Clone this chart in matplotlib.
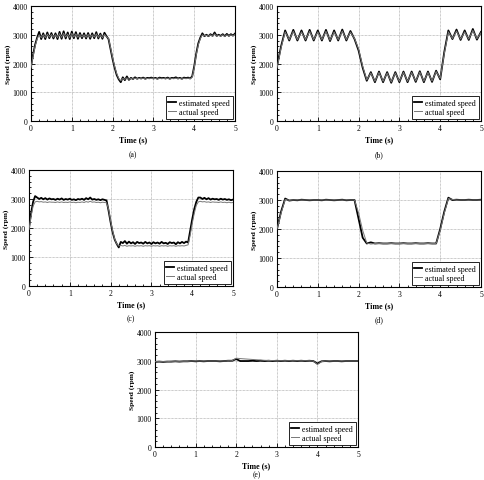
import numpy as np
import matplotlib
matplotlib.use("Agg")
import matplotlib.pyplot as plt
from matplotlib.ticker import MultipleLocator

plt.rcParams['font.family'] = ['Liberation Serif', 'DejaVu Serif']

# sample times (s)
t_fine = np.linspace(0, 5, 101)    # 0.05 s steps
t_coarse = np.linspace(0, 5, 51)   # 0.1 s steps

# (a) speed (rpm), 0.05 s steps
a_est = [1900, 2300, 2650, 2900, 3100, 2850, 3050, 2850, 3080, 2880,
         3060, 2870, 3050, 2850, 3100, 2860, 3120, 2870, 3080, 2850,
         3110, 2880, 3090, 2860, 3060, 2880, 3050, 2870, 3060, 2860,
         3050, 2880, 3090, 2870, 3040, 2860, 3070, 2950, 2850, 2500,
         2150, 1850, 1600, 1450, 1350, 1520, 1420, 1550, 1430, 1500,
         1460, 1520, 1470, 1500, 1480, 1510, 1470, 1500, 1490, 1510,
         1480, 1500, 1470, 1510, 1490, 1500, 1480, 1510, 1470, 1500,
         1490, 1520, 1480, 1500, 1470, 1510, 1490, 1510, 1480, 1550,
         1900, 2350, 2700, 2900, 3050, 2950, 3000, 2950, 3020, 2960,
         3080, 2960, 3000, 2960, 3020, 2950, 3030, 2960, 3020, 2970,
         3040]
a_act = [1850, 2250, 2600, 2850, 3000, 2900, 3000, 2900, 3020, 2920,
         3010, 2910, 3000, 2900, 3040, 2910, 3050, 2920, 3020, 2900,
         3050, 2920, 3030, 2910, 3010, 2920, 3000, 2910, 3010, 2910,
         3000, 2920, 3030, 2910, 3000, 2900, 3010, 2930, 2870, 2550,
         2200, 1900, 1650, 1480, 1400, 1480, 1450, 1500, 1450, 1480,
         1460, 1490, 1470, 1480, 1470, 1490, 1460, 1480, 1470, 1490,
         1470, 1480, 1460, 1490, 1470, 1480, 1470, 1490, 1460, 1480,
         1470, 1490, 1470, 1480, 1460, 1490, 1470, 1490, 1470, 1520,
         1850, 2300, 2650, 2870, 3000, 2960, 2980, 2950, 3000, 2950,
         3030, 2950, 2980, 2950, 3000, 2940, 3000, 2950, 3000, 2960,
         3010]

# (b) speed (rpm), 0.1 s steps
b_est = [1900, 2600, 3150, 2800, 3170, 2800, 3150, 2800, 3170, 2800,
         3150, 2800, 3170, 2780, 3150, 2800, 3180, 2800, 3130, 2850,
         2450, 1850, 1400, 1700, 1350, 1720, 1350, 1700, 1330, 1700,
         1350, 1720, 1350, 1720, 1360, 1730, 1350, 1720, 1360, 1750,
         1450, 2400, 3150, 2850, 3180, 2820, 3150, 2820, 3200, 2830,
         3100]
b_act = [1850, 2550, 3100, 2830, 3120, 2830, 3100, 2830, 3120, 2830,
         3100, 2830, 3120, 2810, 3100, 2830, 3130, 2830, 3090, 2870,
         2500, 1900, 1430, 1670, 1380, 1690, 1380, 1670, 1360, 1670,
         1380, 1690, 1380, 1690, 1390, 1700, 1380, 1690, 1390, 1720,
         1480, 2350, 3100, 2870, 3130, 2850, 3100, 2850, 3150, 2860,
         3070]

# (c) speed (rpm), 0.05 s steps
c_est = [2000, 2500, 2900, 3100, 3050, 3000, 3040, 2990, 3030, 2980,
         3020, 2990, 3000, 2970, 3010, 2980, 3020, 2970, 3000, 2980,
         3010, 2970, 2990, 2960, 3000, 2980, 3010, 2970, 3030, 2990,
         3050, 2980, 3000, 2970, 2990, 2960, 2990, 2970, 2950, 2600,
         2200, 1850, 1600, 1450, 1330, 1520, 1480, 1550, 1460, 1530,
         1470, 1510, 1450, 1520, 1480, 1500, 1460, 1520, 1470, 1500,
         1450, 1510, 1470, 1500, 1460, 1520, 1470, 1490, 1450, 1510,
         1480, 1500, 1440, 1510, 1470, 1520, 1480, 1530, 1500, 1900,
         2300, 2650, 2900, 3050, 3050, 3000, 3040, 2990, 3030, 2980,
         3010, 2990, 3000, 2970, 3010, 2980, 3000, 2970, 2990, 2960,
         2980]
c_act = [1950, 2400, 2750, 2900, 2920, 2900, 2910, 2890, 2900, 2880,
         2900, 2890, 2890, 2880, 2900, 2880, 2900, 2880, 2890, 2880,
         2900, 2880, 2890, 2870, 2890, 2880, 2900, 2880, 2910, 2890,
         2920, 2890, 2900, 2880, 2890, 2870, 2890, 2880, 2870, 2650,
         2250, 1900, 1620, 1450, 1380, 1400, 1380, 1400, 1370, 1390,
         1380, 1390, 1370, 1390, 1380, 1390, 1370, 1390, 1380, 1390,
         1370, 1390, 1380, 1390, 1370, 1390, 1380, 1390, 1370, 1390,
         1380, 1390, 1370, 1390, 1380, 1390, 1380, 1400, 1420, 1750,
         2150, 2500, 2780, 2900, 2920, 2900, 2910, 2890, 2900, 2880,
         2900, 2890, 2890, 2880, 2900, 2880, 2890, 2870, 2890, 2870,
         2880]

# (d) speed (rpm), 0.1 s steps
d_est = [2000, 2600, 3050, 2980, 3000, 2990, 3010, 3000, 2990, 3000,
         3000, 2990, 3010, 3000, 2990, 3000, 3010, 2990, 3000, 3000,
         2350, 1700, 1500, 1540, 1500, 1510, 1500, 1500, 1510, 1500,
         1500, 1510, 1500, 1500, 1510, 1500, 1500, 1510, 1500, 1500,
         2000, 2600, 3080, 3000, 3010, 3000, 3000, 3010, 3000, 3000,
         3010]
d_act = [2000, 2550, 3020, 2990, 3000, 3000, 3000, 3000, 3000, 3000,
         3000, 3000, 3000, 3000, 3000, 3000, 3000, 3000, 3000, 3000,
         2550, 1950, 1520, 1480, 1500, 1500, 1500, 1500, 1500, 1500,
         1500, 1500, 1500, 1500, 1500, 1500, 1500, 1500, 1500, 1500,
         1950, 2550, 3050, 3020, 3000, 3000, 3000, 3000, 3000, 3000,
         3000]

# (e) speed (rpm), 0.1 s steps
e_est = [2960, 2970, 2960, 2970, 2970, 2980, 2970, 2980, 2980, 2990,
         2980, 2990, 2980, 2990, 2990, 2990, 2980, 2990, 3000, 3000,
         3060, 2990, 2990, 2990, 3000, 2990, 3000, 2990, 3000, 2990,
         3000, 2990, 3000, 2990, 3000, 2990, 3000, 2990, 3000, 2990,
         2900, 2980, 2990, 2980, 2990, 2990, 2980, 2990, 2990, 2990,
         2990]
e_act = [2970, 2970, 2970, 2970, 2980, 2980, 2980, 2980, 2980, 2990,
         2990, 2990, 2990, 2990, 2990, 2990, 2990, 2990, 3000, 3000,
         3090, 3075, 3065, 3055, 3045, 3035, 3025, 3015, 3010, 3005,
         3000, 3000, 3000, 3000, 3000, 3000, 3000, 3000, 3000, 2990,
         2870, 2970, 2990, 2990, 2990, 2990, 2990, 2990, 2990, 2990,
         2990]

panels = [
    ("(a)", t_fine, a_est, a_act),
    ("(b)", t_coarse, b_est, b_act),
    ("(c)", t_fine, c_est, c_act),
    ("(d)", t_coarse, d_est, d_act),
    ("(e)", t_coarse, e_est, e_act),
]

# axes boxes in pixels: left, top, right, bottom
boxes = [
    (31, 7, 235, 122),
    (277, 7, 481, 122),
    (29, 171, 233, 287),
    (277, 172, 481, 288),
    (155, 333, 358, 448),
]
# y position (px) of the panel tags
tag_y = [155, 155, 319, 320, 475]

W, H = 485, 481
fig = plt.figure(figsize=(W / 100, H / 100), dpi=100)

for (tag, t, est, act), (l, tp, r, b), ty in zip(panels, boxes, tag_y):
    ax = fig.add_axes([l / W, 1 - b / H, (r - l) / W, (b - tp) / H])
    ax.plot(t, act, color='#777777', lw=0.7, label='actual speed', zorder=3)
    ax.plot(t, est, color='black', lw=1.3, label='estimated speed', zorder=2)
    ax.set_xlim(0, 5)
    ax.set_ylim(0, 4000)
    ax.xaxis.set_major_locator(MultipleLocator(1))
    ax.xaxis.set_minor_locator(MultipleLocator(0.2))
    ax.yaxis.set_major_locator(MultipleLocator(1000))
    ax.yaxis.set_minor_locator(MultipleLocator(200))
    ax.tick_params(which='both', direction='in', labelsize=5.5, width=0.6,
                   top=False, right=False, pad=2.5)
    ax.tick_params(which='major', length=3)
    ax.tick_params(which='minor', length=1.5)
    ax.grid(True, which='major', color='#999999', lw=0.5, ls=(0, (1, 1)))
    for s in ax.spines.values():
        s.set_linewidth(0.8)
    ax.set_xlabel('Time (s)', fontsize=5.8, fontweight='bold', labelpad=2)
    ax.set_ylabel('Speed (rpm)', fontsize=5.3, fontweight='bold', labelpad=1)
    h, lab = ax.get_legend_handles_labels()
    leg = ax.legend(h[::-1], lab[::-1], loc='lower right', fontsize=5.8,
                    handlelength=1.0, handletextpad=0.4, borderpad=0.3,
                    labelspacing=0.2, fancybox=False, framealpha=1,
                    edgecolor='black', borderaxespad=0.3)
    leg.get_frame().set_linewidth(0.6)
    cx = (l + r) / 2 / W
    fig.text(cx, 1 - ty / H, tag, ha='center', va='center', fontsize=5.5)

fig.savefig('out.png', dpi=100)
